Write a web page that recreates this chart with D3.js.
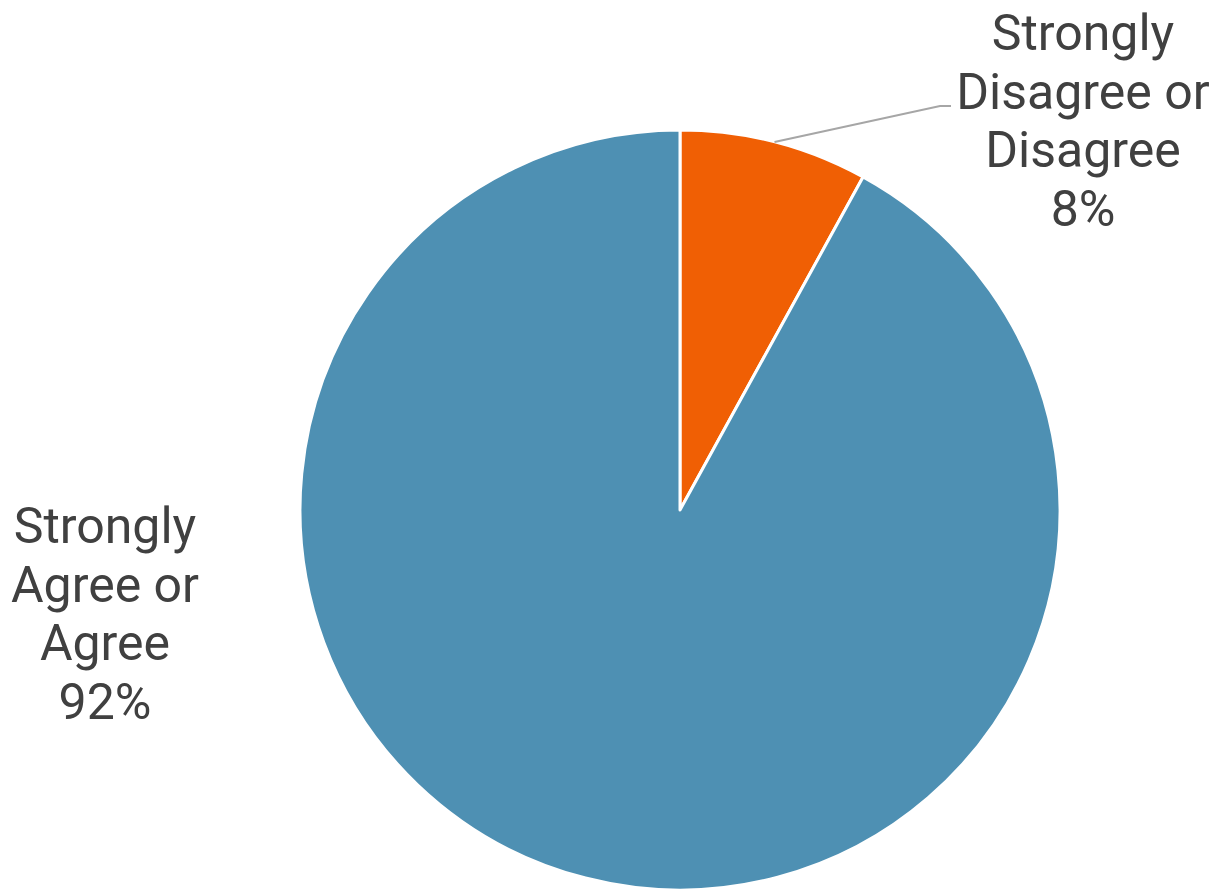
<!DOCTYPE html>
<html>
<head>
<meta charset="utf-8">
<script src="https://cdn.jsdelivr.net/npm/d3@7"></script>
<style>
  body { margin: 0; background: #fff; }
</style>
</head>
<body>
<svg id="chart"></svg>
<script>
// Data
const categories = ["Strongly Disagree or Disagree", "Strongly Agree or Agree"];
const values = [8, 92];
const labelLines = [
  ["Strongly", "Disagree or", "Disagree", "8%"],
  ["Strongly", "Agree or", "Agree", "92%"]
];
const colors = ["#f05f04", "#4e90b3"];

const width = 1219;
const height = 890;
const svg = d3.select("#chart")
  .attr("width", width)
  .attr("height", height);

const cx = 680, cy = 510, radius = 380;

const pie = d3.pie().sort(null).value(d => d);
const arcs = pie(values);
const arc = d3.arc().innerRadius(0).outerRadius(radius);

const g = svg.append("g").attr("transform", `translate(${cx},${cy})`);

g.selectAll("path.slice")
  .data(arcs)
  .enter()
  .append("path")
  .attr("class", "slice")
  .attr("d", arc)
  .attr("fill", (d, i) => colors[i])
  .attr("stroke", "#fff")
  .attr("stroke-width", 3)
  .attr("stroke-linejoin", "round");

// leader line for the small slice
const small = arcs[0];
const mid = (small.startAngle + small.endAngle) / 2;
const p0 = [Math.sin(mid) * radius, -Math.cos(mid) * radius];
g.append("polyline")
  .attr("points", [p0, [260, -404], [271, -404]].map(p => p.join(",")).join(" "))
  .attr("fill", "none")
  .attr("stroke", "#a6a6a6")
  .attr("stroke-width", 2);

// labels
const labelPos = [[1083, 50], [105, 543]];
const lineH = 58.5;
const font = "'Liberation Sans Narrow', 'Roboto', sans-serif";

labelLines.forEach((lines, i) => {
  const t = svg.append("text")
    .attr("text-anchor", "middle")
    .attr("fill", "#404040")
    .attr("font-family", font)
    .attr("font-size", 50);
  lines.forEach((s, j) => {
    t.append("tspan")
      .attr("x", labelPos[i][0])
      .attr("y", labelPos[i][1] + j * lineH)
      .text(s);
  });
});
</script>
</body>
</html>
